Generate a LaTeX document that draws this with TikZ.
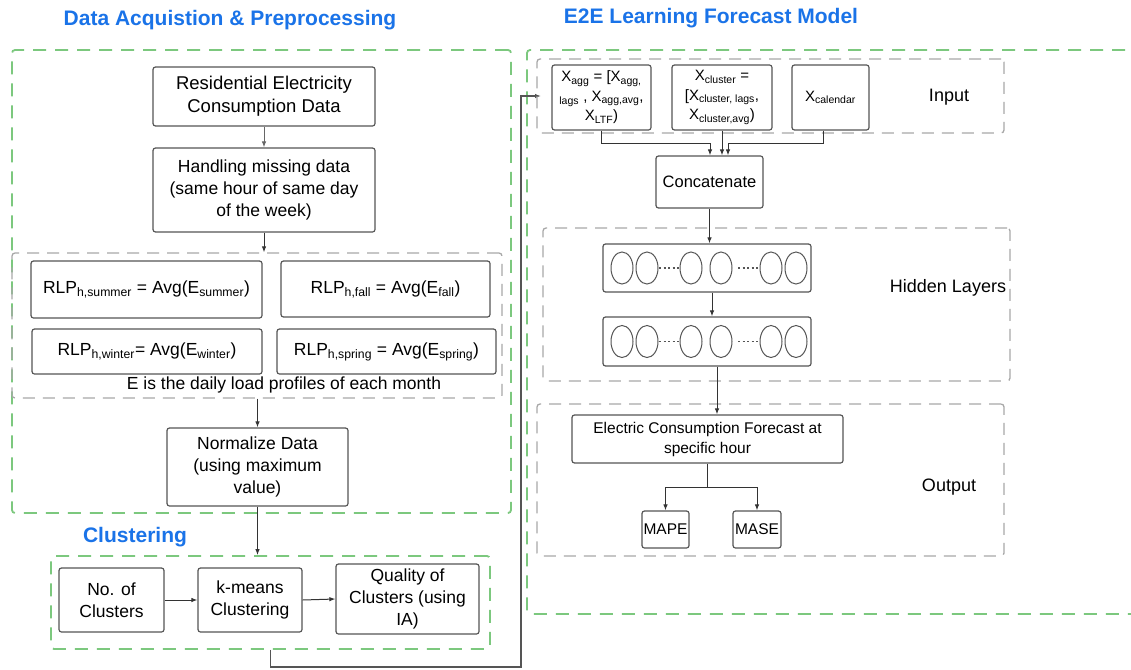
\documentclass[tikz,border=0pt]{standalone}
\usepackage{fontspec}
\setmainfont{Liberation Sans}
\usetikzlibrary{arrows.meta}
\definecolor{dgreen}{HTML}{7CC87E}
\definecolor{dgray}{HTML}{A8A8A8}
\definecolor{bord}{HTML}{555555}
\definecolor{tblue}{HTML}{1A73E8}
\newcommand{\sbs}[1]{\textsubscript{#1}}
\begin{document}
\begin{tikzpicture}[x=1pt,y=-1pt,
  box/.style={draw=bord, line width=1.2pt, rounded corners=2.5pt, align=center, inner sep=0pt, font=\fontsize{17.5}{22}\selectfont},
  greenbox/.style={draw=dgreen, line width=1.8pt, dash pattern=on 13pt off 9pt, rounded corners=3pt, inner sep=0pt},
  graybox/.style={draw=dgray, line width=1.3pt, dash pattern=on 12pt off 8pt, rounded corners=3pt, inner sep=0pt},
  conn/.style={draw=black!80, line width=1pt, -{Latex[length=6pt,width=4.5pt]}},
  title/.style={font=\fontsize{21}{24}\selectfont\bfseries, text=tblue, inner sep=0pt},
  lbl/.style={font=\fontsize{18}{22}\selectfont, inner sep=0pt},
  nrn/.style={draw=bord, line width=1pt},
  dots/.style={draw=bord, line width=1.4pt, dash pattern=on 2pt off 2.5pt}]
\clip (0,0) rectangle (1131,669);
\fill[white] (0,0) rectangle (1131,669);

% ---------- titles
\node[title] (t1) at (230,20) {Data Acquistion \& Preprocessing};
\node[title] (t2) at (711,18) {E2E Learning Forecast Model};
\node[title] (t3) at (135,537) {Clustering};

% ---------- left: green group boxes
\node[greenbox, minimum width=499pt, minimum height=463pt] (gl) at (261.5,281.5) {};
\node[greenbox, minimum width=439pt, minimum height=93pt] (clu) at (270.5,602.5) {};
\node[greenbox, minimum width=623pt, minimum height=564pt] (gr) at (838.5,332) {};

% ---------- left boxes
\node[box, minimum width=222pt, minimum height=59pt, font=\fontsize{18.5}{23}\selectfont] (res) at (264,96.5) {Residential Electricity\\Consumption Data};
\node[box, minimum width=222pt, minimum height=84pt] (hand) at (264,190) {Handling missing data\\(same hour of same day\\of the week)};
\node[graybox, minimum width=490pt, minimum height=145pt] (seas) at (257,325.5) {};
\node[box, minimum width=231pt, minimum height=57pt] (sum) at (146.5,289.5) {RLP\sbs{h,summer} = Avg(E\sbs{summer})};
\node[box, minimum width=209pt, minimum height=56pt] (fall) at (385.5,289) {RLP\sbs{h,fall} = Avg(E\sbs{fall})};
\node[box, minimum width=230pt, minimum height=45pt] (win) at (147,351.5) {RLP\sbs{h,winter}= Avg(E\sbs{winter})};
\node[box, minimum width=219pt, minimum height=45pt] (spr) at (386.5,351.5) {RLP\sbs{h,spring} = Avg(E\sbs{spring})};
\node[lbl, font=\fontsize{17.5}{22}\selectfont] (enote) at (284,385) {E is the daily load profiles of each month};
\node[box, minimum width=181pt, minimum height=78pt] (norm) at (257.5,467) {Normalize Data\\(using maximum\\value)};
\node[box, minimum width=105pt, minimum height=64pt] (noc) at (111.5,600) {No. of\\Clusters};
\node[box, minimum width=104pt, minimum height=64pt] (km) at (250,600) {k-means\\Clustering};
\node[box, minimum width=143pt, minimum height=70pt] (qual) at (407.5,599) {Quality of\\Clusters (using\\IA)};

% ---------- left connectors
\draw[conn, draw=black!60] (res.south) -- (hand.north);
\draw[conn] (hand.south) -- (hand.south |- seas.north);
\draw[conn] (norm.north |- seas.south) -- (norm.north);
\draw[conn] (norm.south) -- (norm.south |- clu.north);
\draw[conn] (noc.east) -- (km.west);
\draw[conn] (km.east) -- (qual.west);
\coordinate (turn) at (521,667);
\draw[conn, draw=bord, line width=1.4pt] (clu.south) |- (turn) |- (541,96);

% ---------- right: input
\node[graybox, minimum width=467pt, minimum height=74pt] (inp) at (770.5,96) {};
\node[box, minimum width=99pt, minimum height=65pt, font=\fontsize{15}{19.5}\selectfont] (xagg) at (601.5,97.5) {X\sbs{agg} = [X\sbs{agg,}\\\sbs{lags} , X\sbs{agg,avg},\\X\sbs{LTF})};
\node[box, minimum width=100pt, minimum height=65pt, font=\fontsize{15}{19.5}\selectfont] (xclu) at (722,97.5) {X\sbs{cluster} =\\{}[X\sbs{cluster, lags},\\X\sbs{cluster,avg})};
\node[box, minimum width=77pt, minimum height=65pt, font=\fontsize{15}{19.5}\selectfont] (xcal) at (830.5,97.5) {X\sbs{calendar}};
\node[lbl] (linp) at (949,97) {Input};
\node[box, minimum width=107pt, minimum height=52pt, font=\fontsize{16.5}{20}\selectfont] (concat) at (709.5,182) {Concatenate};

\coordinate (j1) at (710,143);
\coordinate (j3) at (728,143);
\draw[conn] (xagg.south) |- (j1) -- (j1 |- concat.north);
\draw[conn] (xclu.south) -- (xclu.south |- concat.north);
\draw[conn] ([xshift=-7.5pt]xcal.south) |- (j3) -- (j3 |- concat.north);

% ---------- right: hidden layers
\node[graybox, minimum width=467pt, minimum height=153pt] (hid) at (776.5,304.5) {};
\node[box, minimum width=208pt, minimum height=48pt] (l1) at (707,268) {};
\node[box, minimum width=208pt, minimum height=49pt] (l2) at (707,341.5) {};
\node[lbl] (lhid) at (948,288) {Hidden Layers};
\foreach \L in {l1,l2}{
  \foreach \dx in {-85,-60,-16,14,64,89}
    \draw[nrn] ([xshift=\dx pt]\L.center) ellipse [x radius=11pt, y radius=16pt];
  \draw[dots] ([xshift=-48pt]\L.center) -- ([xshift=-27pt]\L.center);
  \draw[dots] ([xshift=31pt]\L.center) -- ([xshift=53pt]\L.center);
}
\draw[conn] (concat.south) -- (concat.south |- l1.north);
\draw[conn] ([xshift=5pt]l1.south) -- ([xshift=5pt]l2.north);

% ---------- right: output
\node[graybox, minimum width=467pt, minimum height=152pt] (outb) at (770.5,480) {};
\node[box, minimum width=271pt, minimum height=48pt, font=\fontsize{15.5}{20}\selectfont] (fc) at (707.5,439) {Electric Consumption Forecast at\\specific hour};
\node[box, minimum width=47pt, minimum height=37pt, font=\fontsize{15.5}{20}\selectfont] (mape) at (665.5,529.5) {MAPE};
\node[box, minimum width=48pt, minimum height=37pt, font=\fontsize{15.5}{20}\selectfont] (mase) at (757,529.5) {MASE};
\node[lbl] (lout) at (949,487) {Output};
\draw[conn] ([xshift=10pt]l2.south) -- ([xshift=10pt]l2.south |- fc.north);
\coordinate (br) at (707.5,487);
\draw[draw=black!80, line width=1pt] (fc.south) -- (br);
\draw[conn] (br) -| (mape.north);
\draw[conn] (br) -| (mase.north);
\end{tikzpicture}
\end{document}
